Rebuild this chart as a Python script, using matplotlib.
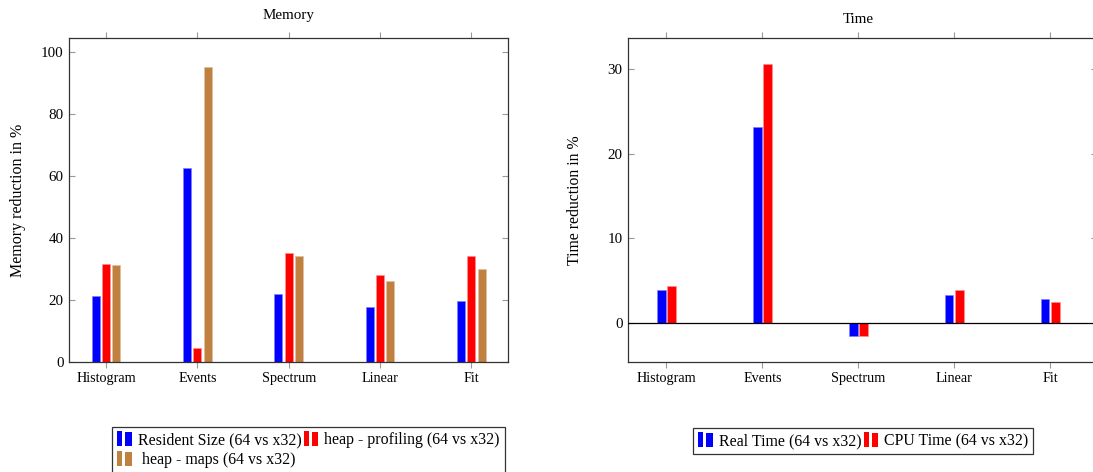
import matplotlib
matplotlib.use("Agg")
import matplotlib.pyplot as plt
import numpy as np
from matplotlib.legend_handler import HandlerBase
from matplotlib.patches import Rectangle, Patch

plt.rcParams['font.family'] = ['Liberation Serif', 'DejaVu Serif']

categories = ["Histogram", "Events", "Spectrum", "Linear", "Fit"]

# Memory panel
mem_resident = [21.4, 62.7, 21.9, 17.7, 19.8]
mem_heap_prof = [31.7, 4.6, 35.3, 28.1, 34.2]
mem_heap_maps = [31.5, 95.3, 34.3, 26.1, 30.1]
mem_labels = ["Resident Size (64 vs x32)", "heap - profiling (64 vs x32)", " heap - maps (64 vs x32)"]
mem_yticks = [0, 20, 40, 60, 80, 100]

# Time panel
time_real = [3.86, 23.2, -1.58, 3.27, 2.84]
time_cpu = [4.37, 30.6, -1.58, 3.94, 2.44]
time_labels = ["Real Time (64 vs x32)", "CPU Time (64 vs x32)"]
time_yticks = [0, 10, 20, 30]

BLUE = "#0000ff"
RED = "#ff0000"
BROWN = "#bf8040"
EDGE = {BLUE: "#8080ff", RED: "#ff9090", BROWN: "#dfbfa0"}

W, H = 1093, 472
fig = plt.figure(figsize=(W / 100, H / 100), dpi=100)


def px_axes(left, top, right, bottom):
    return fig.add_axes([left / W, 1 - bottom / H, (right - left) / W, (bottom - top) / H])


ax1 = px_axes(69, 37.7, 508, 362.3)
ax2 = px_axes(628, 37.7, 1097, 362.3)

x = np.arange(len(categories))
bw = 0.088

def style(ax):
    for s in ax.spines.values():
        s.set_color("#333333")
        s.set_linewidth(0.9)
    ax.set_xticks(x)
    ax.set_xticklabels(categories, fontsize=10.2)
    ax.tick_params(axis='x', direction='out', top=True, bottom=True, length=4.2,
                   color="#999999", width=0.8, pad=3)
    ax.tick_params(axis='y', direction='in', left=True, right=True, length=4.2,
                   color="#999999", width=0.8, labelsize=10.8, pad=4)

# Memory
for vals, off, c in [(mem_resident, -0.113, BLUE), (mem_heap_prof, 0.0, RED), (mem_heap_maps, 0.113, BROWN)]:
    ax1.bar(x + off, vals, width=bw, color=c, edgecolor=EDGE[c], linewidth=0.5)
ax1.set_xlim(-0.405, 4.40)
ax1.set_ylim(0, 104.7)
ax1.set_yticks(mem_yticks)
style(ax1)
ax1.set_ylabel("Memory reduction in %", fontsize=11.5)
ax1.yaxis.set_label_coords(-0.097, 0.5)
fig.text(288.5 / W, 1 - 19 / H, "Memory", ha='center', va='baseline', fontsize=10.8)

# Time
for vals, off, c in [(time_real, -0.055, BLUE), (time_cpu, 0.055, RED)]:
    ax2.bar(x + off, vals, width=0.092, color=c, edgecolor=EDGE[c], linewidth=0.5)
ax2.axhline(0, color="black", linewidth=0.9, zorder=3)
ax2.set_xlim(-0.4, 4.486)
ax2.set_ylim(-4.65, 33.74)
ax2.set_yticks(time_yticks)
style(ax2)
ax2.set_ylabel("Time reduction in %", fontsize=11.3)
ax2.yaxis.set_label_coords(-0.096, 0.5)
fig.text(858 / W, 1 - 23.3 / H, "Time", ha='center', va='baseline', fontsize=10.8)


class TwoBarHandler(HandlerBase):
    def create_artists(self, legend, orig_handle, xdescent, ydescent, width, height, fontsize, trans):
        c = orig_handle.get_facecolor()
        x0 = -xdescent
        y0 = -ydescent - 0.15 * height
        r1 = Rectangle((x0, y0), width * 0.3, height * 1.3, facecolor=c, edgecolor='none', transform=trans)
        r2 = Rectangle((x0 + width * 0.5, y0), width * 0.38, height * 1.15, facecolor=c, edgecolor='none', transform=trans)
        return [r1, r2]


def make_legend(colors, labels, order, left, top):
    handles = [Patch(facecolor=colors[i]) for i in order]
    labs = [labels[i] for i in order]
    leg = fig.legend(handles, labs, ncol=2, loc='upper left',
                     bbox_to_anchor=(left / W, 1 - top / H), bbox_transform=fig.transFigure,
                     fontsize=11.4, frameon=True, fancybox=False, shadow=False,
                     handler_map={Patch: TwoBarHandler()}, handlelength=1.05, handleheight=0.8,
                     handletextpad=0.25, columnspacing=0.15, labelspacing=0.25,
                     borderpad=0.3, borderaxespad=0)
    fr = leg.get_frame()
    fr.set_edgecolor("#333333")
    fr.set_linewidth(0.9)
    fr.set_alpha(1)
    return leg

make_legend([BLUE, RED, BROWN], mem_labels, [0, 2, 1], 112.3, 427.3)
make_legend([BLUE, RED], time_labels, [0, 1], 693.3, 428.3)

fig.savefig("out.png", dpi=100)
